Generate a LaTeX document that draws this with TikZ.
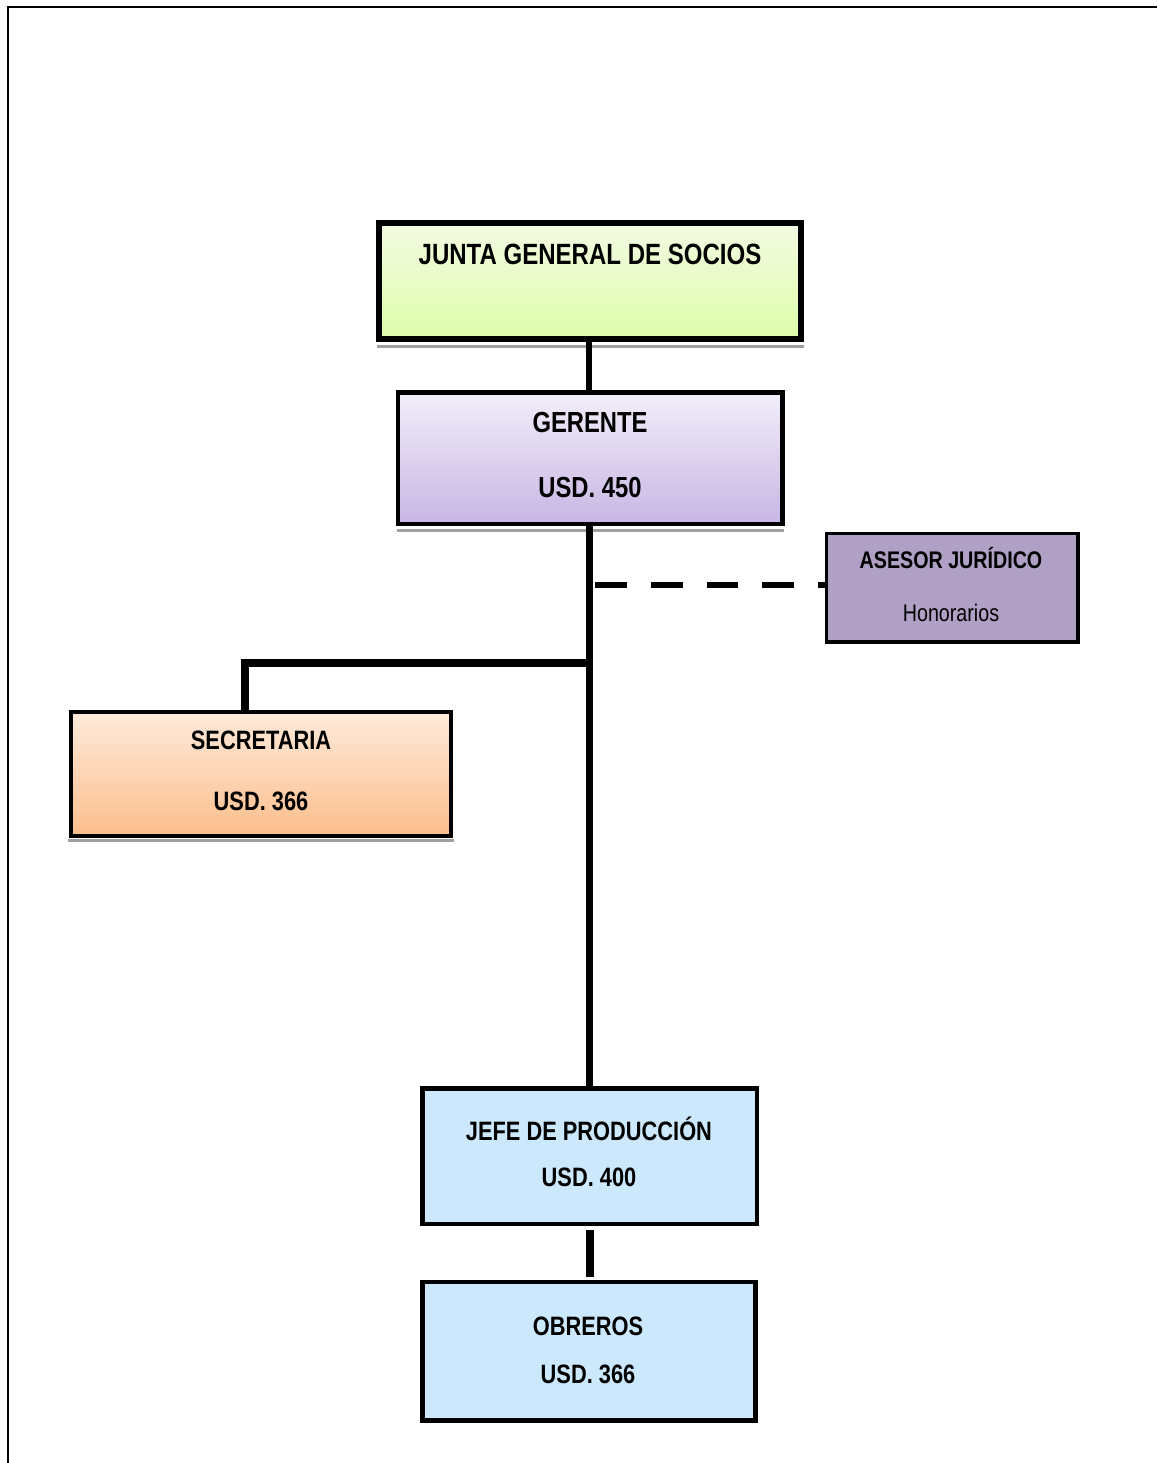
\documentclass[tikz,border=0pt]{standalone}
\usepackage{fontspec}
\setmainfont{Liberation Sans}[FakeStretch=0.82]
\usetikzlibrary{calc}

\definecolor{juntaTop}{RGB}{243,251,226}
\definecolor{juntaBot}{RGB}{222,252,170}
\definecolor{gerTop}{RGB}{242,238,250}
\definecolor{gerBot}{RGB}{200,182,228}
\definecolor{secTop}{RGB}{254,234,218}
\definecolor{secBot}{RGB}{252,190,140}
\definecolor{asesorFill}{RGB}{176,160,198}
\definecolor{prodFill}{RGB}{204,232,252}
\definecolor{shade}{RGB}{160,160,160}

\tikzset{
  box/.style={draw=black, rectangle, inner sep=0pt},
  link/.style={draw=black, line width=7pt},
  dashlink/.style={draw=black, line width=6.5pt, dash pattern=on 31.7pt off 24.1pt},
  boxshadow/.style={draw=shade, line width=3pt},
  frameline/.style={draw=black, line width=2.5pt},
  title/.style={anchor=base, inner sep=0pt, font=\bfseries},
}

\begin{document}
\begin{tikzpicture}[x=1pt, y=-1pt]
\useasboundingbox (0,0) rectangle (1157,1463);

% page frame
\draw[frameline] (1157,7) -- (8,7) -- (8,1463);

% shadows under the upper boxes
\draw[boxshadow] (377,346) -- (804,346);
\draw[boxshadow] (397,530) -- (784,530);
\draw[boxshadow] (68,840) -- (454,840);

% boxes
\node[box, line width=6.5pt, top color=juntaTop, bottom color=juntaBot,
      minimum width=422pt, minimum height=116pt] (junta) at (590,281) {};
\node[box, line width=4.5pt, top color=gerTop, bottom color=gerBot,
      minimum width=384.5pt, minimum height=131.5pt] (gerente) at (590.25,458.25) {};
\node[box, line width=3.5pt, fill=asesorFill,
      minimum width=251.5pt, minimum height=108.5pt] (asesor) at (952.25,587.75) {};
\node[box, line width=4pt, top color=secTop, bottom color=secBot,
      minimum width=380pt, minimum height=124pt] (secretaria) at (261,774) {};
\node[box, line width=4.5pt, fill=prodFill,
      minimum width=334.5pt, minimum height=135.5pt] (jefe) at (589.75,1156.25) {};
\node[box, line width=4.5pt, fill=prodFill,
      minimum width=333pt, minimum height=138.5pt] (obreros) at (589,1351.25) {};

% connectors
\coordinate (trunktop) at (589,526);
\coordinate (branch) at (589,663);
\coordinate (dashstart) at (595,585);
\draw[link, line width=6.5pt] (589,342) -- (589,392) coordinate (gtop);
\draw[link] (trunktop) -- (trunktop |- jefe.north);
\draw[link, line cap=rect, line width=7.5pt] (branch) -- (245,663) -- (245,710) coordinate (sectop);
\draw[dashlink] (dashstart) -- (dashstart -| asesor.west);
\draw[link, line width=8pt] (590,1230) coordinate (jb) -- (590,1277) coordinate (ot);

% texts
\node[title, font=\bfseries\fontsize{29.3}{35}\selectfont] (tJunta) at (590,265) {JUNTA GENERAL DE SOCIOS};
\node[title, font=\bfseries\fontsize{29}{35}\selectfont] (tGer) at (590,432) {GERENTE};
\node[title, font=\bfseries\fontsize{29}{35}\selectfont] (tGerS) at (590,497) {USD. 450};
\node[title, font=\bfseries\fontsize{24}{29}\selectfont] (tAse) at (951,568) {ASESOR JURÍDICO};
\node[title, font=\fontsize{24}{29}\selectfont] (tAseS) at (951,621) {Honorarios};
\node[title, font=\bfseries\fontsize{26.6}{32}\selectfont] (tSec) at (261,749) {SECRETARIA};
\node[title, font=\bfseries\fontsize{26.6}{32}\selectfont] (tSecS) at (261,810) {USD. 366};
\node[title, font=\bfseries\fontsize{26.6}{32}\selectfont] (tJefe) at (589,1140) {JEFE DE PRODUCCIÓN};
\node[title, font=\bfseries\fontsize{26.6}{32}\selectfont] (tJefeS) at (589,1186.5) {USD. 400};
\node[title, font=\bfseries\fontsize{26.6}{32}\selectfont] (tObr) at (588,1335) {OBREROS};
\node[title, font=\bfseries\fontsize{26.6}{32}\selectfont] (tObrS) at (588,1383) {USD. 366};
\end{tikzpicture}
\end{document}
